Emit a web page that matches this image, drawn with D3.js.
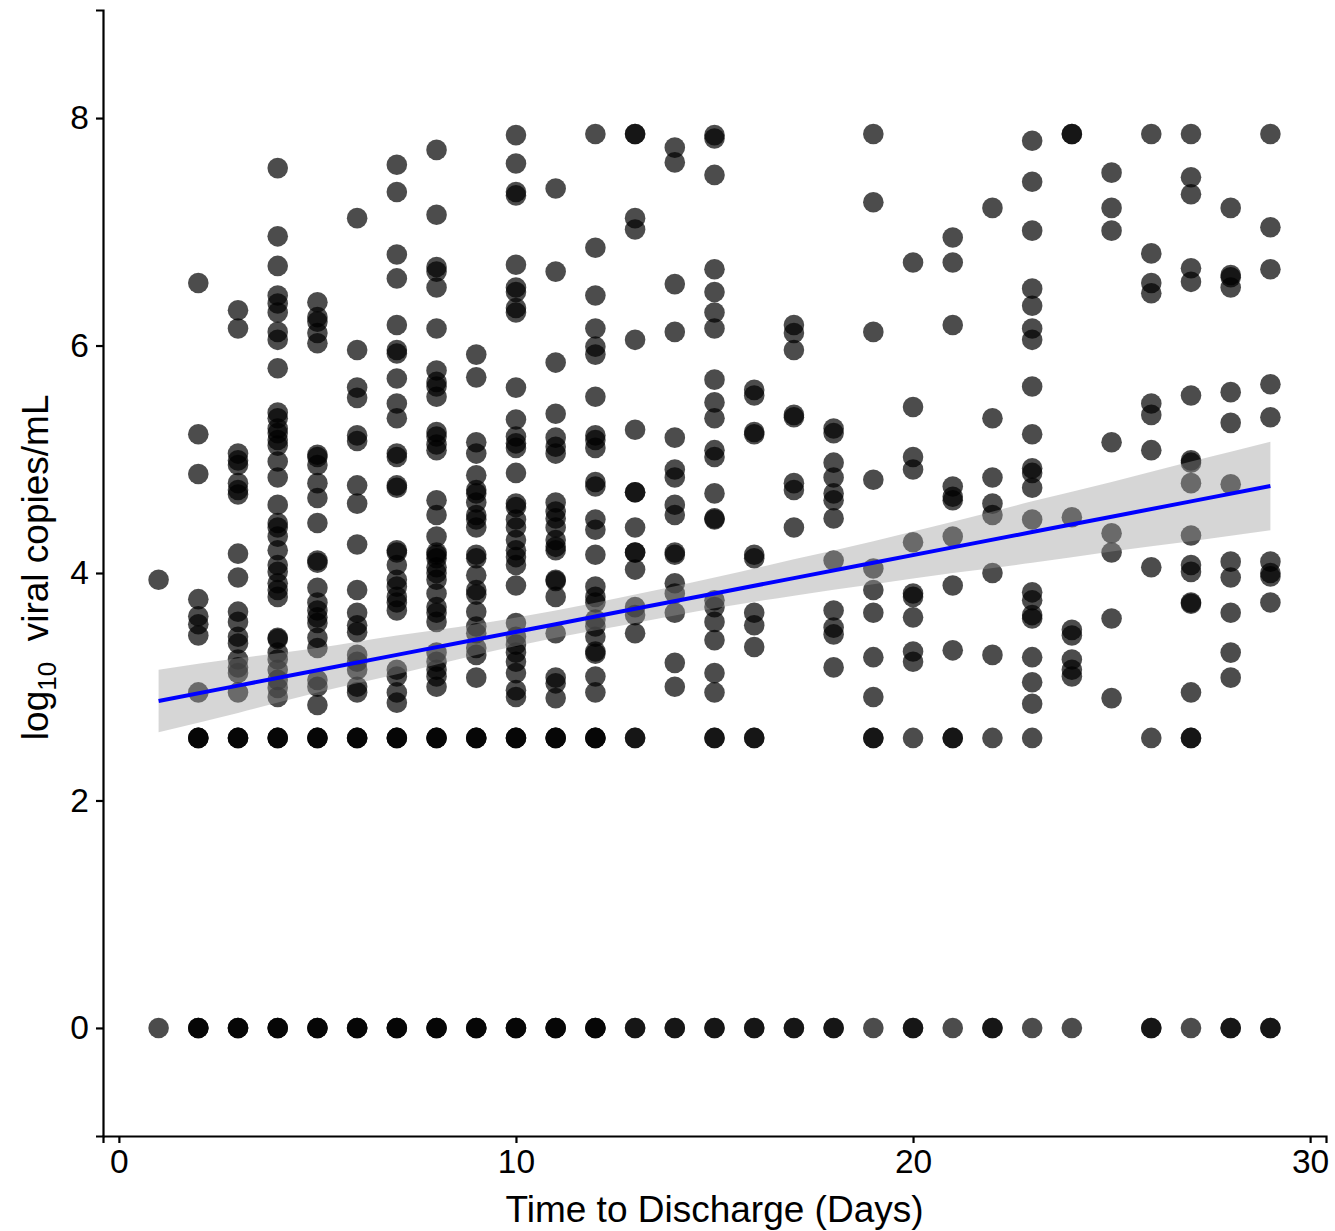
<!DOCTYPE html>
<html>
<head>
<meta charset="utf-8">
<script src="https://cdn.jsdelivr.net/npm/d3@7"></script>
<style>
  html, body { margin: 0; padding: 0; background: #fff; }
  svg { display: block; font-family: "Liberation Sans", Arial, sans-serif; }
</style>
</head>
<body>
<svg id="chart" width="1335" height="1231"></svg>
<script>
// ---------------- DATA ----------------
const days = [1,2,3,4,5,6,7,8,9,10,11,12,13,14,15,16,17,18,19,20,21,22,23,24,25,26,27,28,29];
const viralLoad = [
  [3.94, 0],
  [6.55, 5.22, 4.87, 3.77, 3.62, 3.55, 3.45, 2.95, 2.55, 2.55, 2.55, 0, 0, 0],
  [6.31, 6.15, 5.05, 4.99, 4.95, 4.79, 4.73, 4.69, 4.17, 3.96, 3.66, 3.57, 3.44, 3.38, 3.24, 3.17, 3.12, 2.95, 2.55, 2.55, 2.55, 0, 0, 0],
  [7.56, 6.96, 6.70, 6.44, 6.37, 6.29, 6.12, 6.05, 5.80, 5.41, 5.36, 5.27, 5.23, 5.17, 5.12, 4.98, 4.84, 4.60, 4.44, 4.40, 4.32, 4.20, 4.07, 4.01, 3.91, 3.85, 3.79, 3.43, 3.42, 3.30, 3.24, 3.15, 3.06, 2.99, 2.91, 2.55, 2.55, 2.55, 0, 0, 0],
  [6.38, 6.25, 6.21, 6.11, 6.02, 5.04, 5.02, 4.95, 4.79, 4.66, 4.44, 4.11, 4.09, 3.87, 3.74, 3.67, 3.61, 3.56, 3.43, 3.34, 3.06, 3.00, 2.84, 2.55, 2.55, 2.55, 0, 0, 0],
  [7.12, 5.96, 5.63, 5.54, 5.21, 5.16, 4.77, 4.61, 4.25, 3.85, 3.65, 3.54, 3.48, 3.28, 3.22, 3.15, 3.00, 2.95, 2.55, 2.55, 2.55, 0, 0, 0],
  [7.59, 7.35, 6.80, 6.59, 6.18, 5.96, 5.93, 5.71, 5.49, 5.36, 5.05, 5.02, 4.77, 4.75, 4.20, 4.18, 4.07, 3.94, 3.88, 3.79, 3.74, 3.67, 3.15, 3.09, 2.95, 2.86, 2.55, 2.55, 2.55, 0, 0, 0],
  [7.72, 7.15, 6.69, 6.65, 6.51, 6.15, 5.78, 5.68, 5.64, 5.55, 5.24, 5.20, 5.13, 5.08, 4.64, 4.51, 4.32, 4.18, 4.16, 4.13, 4.05, 4.00, 3.94, 3.82, 3.70, 3.65, 3.57, 3.30, 3.22, 3.15, 3.09, 3.00, 2.55, 2.55, 2.55, 0, 0, 0],
  [5.92, 5.72, 5.15, 5.05, 4.86, 4.73, 4.70, 4.62, 4.51, 4.47, 4.40, 4.16, 4.13, 3.98, 3.85, 3.81, 3.66, 3.53, 3.47, 3.34, 3.28, 3.08, 2.55, 2.55, 2.55, 0, 0, 0],
  [7.85, 7.60, 7.35, 7.32, 6.71, 6.51, 6.47, 6.33, 6.29, 5.63, 5.35, 5.20, 5.14, 5.10, 4.88, 4.61, 4.58, 4.47, 4.40, 4.29, 4.20, 4.14, 4.07, 3.89, 3.56, 3.44, 3.37, 3.30, 3.22, 3.12, 2.97, 2.91, 2.55, 2.55, 2.55, 0, 0, 0],
  [7.38, 6.65, 5.85, 5.40, 5.19, 5.11, 5.05, 4.62, 4.54, 4.48, 4.40, 4.29, 4.23, 4.20, 3.94, 3.93, 3.79, 3.47, 3.08, 3.03, 2.90, 2.55, 2.55, 2.55, 0, 0, 0],
  [7.86, 6.86, 6.44, 6.15, 5.99, 5.92, 5.55, 5.21, 5.17, 5.10, 4.80, 4.76, 4.47, 4.38, 4.16, 3.88, 3.79, 3.74, 3.59, 3.53, 3.44, 3.31, 3.29, 3.09, 2.95, 2.55, 2.55, 2.55, 0, 0, 0],
  [7.86, 7.86, 7.12, 7.02, 6.05, 5.26, 4.71, 4.71, 4.40, 4.18, 4.18, 4.03, 3.70, 3.63, 3.47, 2.55, 2.55, 0, 0],
  [7.74, 7.61, 6.54, 6.12, 5.19, 4.91, 4.84, 4.60, 4.51, 4.18, 4.16, 3.91, 3.82, 3.65, 3.21, 3.00, 0, 0],
  [7.85, 7.82, 7.50, 6.67, 6.47, 6.29, 6.15, 5.70, 5.50, 5.36, 5.08, 5.02, 4.70, 4.48, 4.47, 3.76, 3.70, 3.57, 3.41, 3.12, 2.95, 2.55, 2.55, 0, 0],
  [5.61, 5.56, 5.24, 5.22, 4.16, 4.13, 3.65, 3.54, 3.35, 2.55, 2.55, 0, 0],
  [6.18, 6.11, 5.96, 5.39, 5.37, 4.79, 4.73, 4.40, 0, 0],
  [5.27, 5.23, 4.97, 4.84, 4.70, 4.64, 4.48, 4.11, 3.67, 3.52, 3.46, 3.17, 0, 0],
  [7.86, 7.26, 6.12, 4.82, 4.04, 3.85, 3.65, 3.26, 2.91, 2.55, 2.55, 0],
  [6.73, 5.46, 5.02, 4.91, 4.27, 3.82, 3.79, 3.61, 3.31, 3.22, 2.55, 0, 0],
  [6.95, 6.73, 6.18, 4.76, 4.67, 4.64, 4.32, 3.89, 3.32, 2.55, 2.55, 0],
  [7.21, 5.36, 4.84, 4.61, 4.51, 4.00, 3.28, 2.55, 0, 0],
  [7.80, 7.44, 7.01, 6.50, 6.35, 6.15, 6.05, 5.64, 5.22, 4.92, 4.88, 4.75, 4.47, 3.83, 3.76, 3.63, 3.60, 3.26, 3.04, 2.85, 2.55, 0],
  [7.86, 7.86, 4.49, 3.50, 3.45, 3.24, 3.15, 3.09, 0],
  [7.52, 7.21, 7.01, 5.15, 4.35, 4.18, 3.60, 2.90],
  [7.86, 6.81, 6.55, 6.46, 5.49, 5.39, 5.08, 4.05, 2.55, 0, 0],
  [7.86, 7.48, 7.33, 6.68, 6.56, 5.56, 4.99, 4.97, 4.79, 4.33, 4.07, 4.01, 3.74, 3.73, 2.95, 2.55, 2.55, 0],
  [7.21, 6.62, 6.60, 6.51, 5.59, 5.32, 4.78, 4.10, 3.96, 3.65, 3.30, 3.08, 0, 0],
  [7.86, 7.04, 6.67, 5.66, 5.37, 4.10, 4.00, 3.97, 3.74, 0, 0]
];

// Linear fit and its confidence band
const fitX     = [1, 3, 5, 7, 9, 11, 13, 15, 17, 19, 21, 23, 25, 27, 29];
const fitY     = [2.875, 3.01, 3.145, 3.28, 3.415, 3.55, 3.685, 3.82, 3.955, 4.09, 4.225, 4.36, 4.495, 4.63, 4.765];
const fitLower = [2.60, 2.77, 2.95, 3.11, 3.28, 3.43, 3.56, 3.69, 3.80, 3.90, 4.00, 4.09, 4.19, 4.28, 4.375];
const fitUpper = [3.15, 3.25, 3.34, 3.45, 3.55, 3.67, 3.81, 3.96, 4.12, 4.28, 4.45, 4.63, 4.80, 4.98, 5.155];

const xTicks = [0, 10, 20, 30];
const yTicks = [0, 2, 4, 6, 8];
const xTitle = "Time to Discharge (Days)";

// ---------------- CHART ----------------
const svg = d3.select("#chart");
const x = d3.scaleLinear().domain([-0.4, 30.4]).range([103, 1326]);
const y = d3.scaleLinear().domain([-0.95, 8.95]).range([1136, 10]);

const points = [];
days.forEach((d, i) => viralLoad[i].forEach(v => points.push({day: d, v: v})));

svg.append("g").selectAll("circle").data(points).join("circle")
  .attr("cx", d => x(d.day))
  .attr("cy", d => y(d.v))
  .attr("r", 10.3)
  .attr("fill", "#000")
  .attr("fill-opacity", 0.7);

const fit = fitX.map((d, i) => ({x: d, y: fitY[i], lo: fitLower[i], hi: fitUpper[i]}));

svg.append("path").datum(fit)
  .attr("d", d3.area().x(d => x(d.x)).y0(d => y(d.lo)).y1(d => y(d.hi)).curve(d3.curveMonotoneX))
  .attr("fill", "#999999")
  .attr("fill-opacity", 0.4);

svg.append("path").datum(fit)
  .attr("d", d3.line().x(d => x(d.x)).y(d => y(d.y)))
  .attr("fill", "none")
  .attr("stroke", "#0000ff")
  .attr("stroke-width", 4);

// Axes
const xAxis = svg.append("g").attr("transform", "translate(0,1136)")
  .call(d3.axisBottom(x).tickValues(xTicks).tickSize(7).tickPadding(5).tickFormat(d3.format("d")));
const yAxis = svg.append("g").attr("transform", "translate(103,0)")
  .call(d3.axisLeft(y).tickValues(yTicks).tickSize(7).tickPadding(7).tickFormat(d3.format("d")));

[xAxis, yAxis].forEach(g => {
  g.select(".domain").attr("stroke", "#000").attr("stroke-width", 2.2);
  g.selectAll(".tick line").attr("stroke", "#000").attr("stroke-width", 2.2);
  g.selectAll(".tick text").attr("fill", "#000").attr("font-size", 33.5)
    .attr("font-family", "'Liberation Sans', Arial, sans-serif");
});
xAxis.selectAll(".tick text").attr("dy", "0.76em");

// X title
svg.append("text")
  .attr("x", x(15)).attr("y", 1222)
  .attr("text-anchor", "middle")
  .attr("font-size", 37)
  .attr("fill", "#000")
  .text(xTitle);

// Y title with subscript
const yt = svg.append("text")
  .attr("transform", `translate(48,${y(4.05)}) rotate(-90)`)
  .attr("text-anchor", "middle")
  .attr("font-size", 37)
  .attr("fill", "#000");
yt.append("tspan").text("log");
yt.append("tspan").attr("font-size", 26).attr("dy", 8).text("10");
yt.append("tspan").attr("dy", -8).text("  viral copies/mL").attr("xml:space", "preserve");
</script>
</body>
</html>
